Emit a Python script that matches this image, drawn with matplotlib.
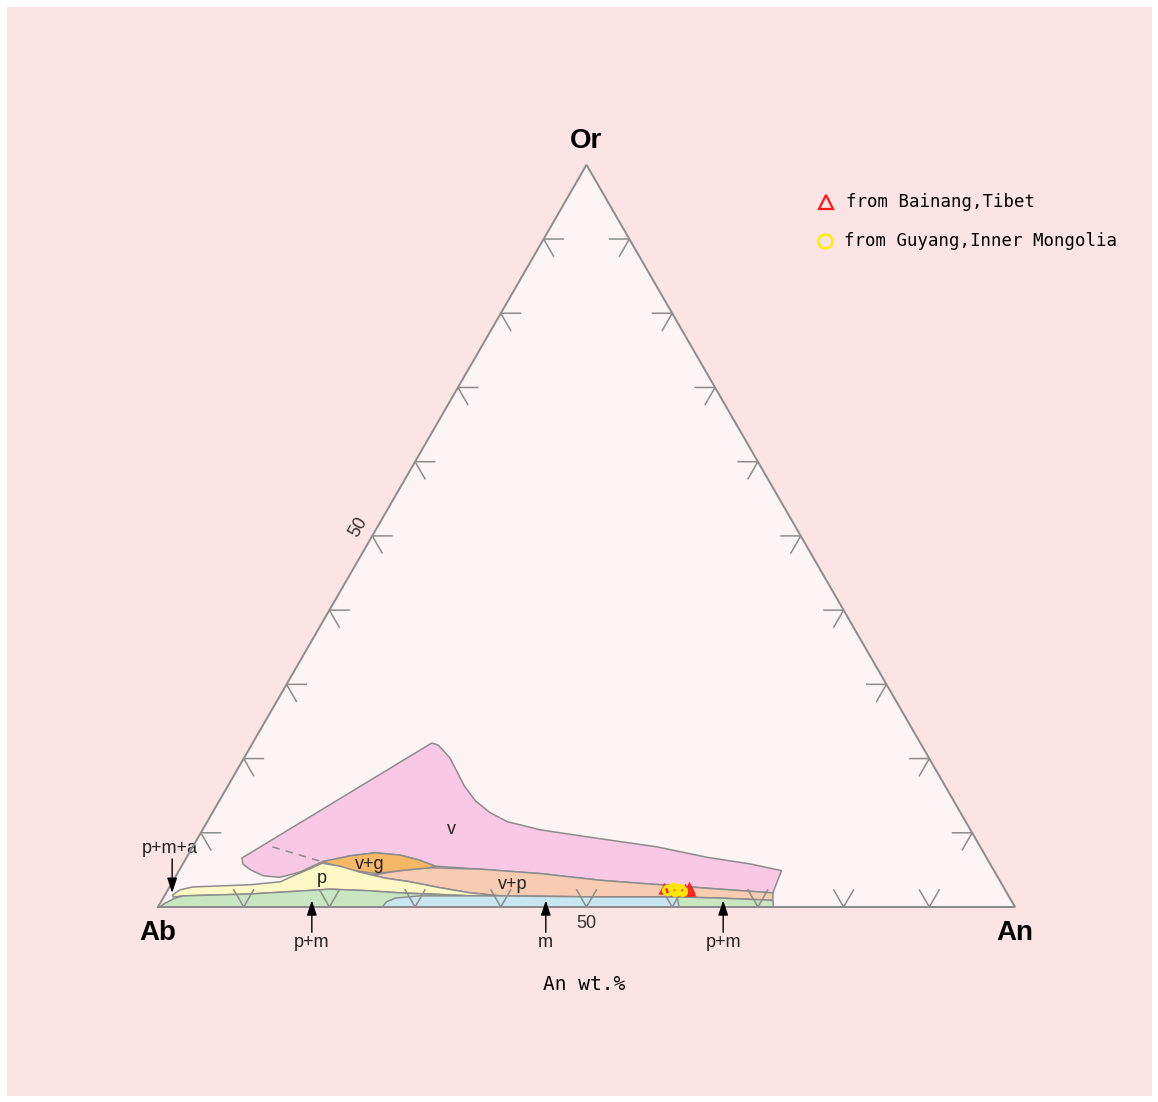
import numpy as np
import matplotlib.pyplot as plt
from matplotlib.patches import Polygon, Rectangle

# Ab-An-Or ternary diagram: stability fields of feldspar inclusions
# every field is a list of (An wt.%, Or wt.%) points, Ab = 100 - An - Or

v_field = [(6.5, 6.6), (20.9, 22.1), (21.8, 21.8), (22.6, 21.2), (24.0, 20.1),
           (25.8, 18.2), (27.6, 16.3), (29.9, 14.3), (32.4, 12.7), (35.0, 11.5),
           (39.4, 10.4), (45.7, 9.4), (54.2, 8.1), (60.7, 6.7), (66.2, 5.8),
           (70.3, 4.9), (70.8, 1.9), (64.4, 2.4), (59.5, 2.8), (54.6, 3.2),
           (49.8, 3.6), (42.4, 4.5), (35.0, 5.1), (29.6, 5.5), (27.4, 6.3),
           (24.7, 7.0), (21.7, 7.3), (19.0, 6.9), (16.1, 6.1), (14.2, 4.7),
           (12.2, 4.0), (10.2, 4.2), (8.3, 5.0), (7.0, 5.8)]

vg_field = [(16.1, 6.1), (19.0, 6.9), (21.7, 7.3), (24.7, 7.0), (27.4, 6.3),
            (29.6, 5.5), (29.1, 5.3), (25.8, 4.9), (23.1, 4.5), (19.9, 5.0)]

vp_field = [(22.9, 4.3), (25.8, 4.9), (29.1, 5.3), (35.0, 5.1), (42.4, 4.5),
            (49.8, 3.6), (54.6, 3.2), (59.5, 2.8), (64.4, 2.4), (70.8, 1.9),
            (71.3, 0.9), (65.0, 1.2), (60.2, 1.35), (50.9, 1.35), (39.2, 1.5),
            (35.5, 1.9), (31.6, 2.6), (27.7, 3.4), (24.5, 3.9)]

p_field = [(0.9, 1.6), (1.4, 2.3), (2.7, 2.7), (9.3, 3.0), (12.6, 3.4),
           (13.4, 4.0), (14.9, 5.0), (16.2, 5.9), (18.5, 5.5), (21.2, 4.7),
           (24.5, 3.9), (27.7, 3.4), (31.6, 2.6), (35.5, 1.9), (39.2, 1.5),
           (35.7, 1.5), (30.9, 1.75), (27.3, 1.9), (23.3, 2.2), (18.9, 2.4),
           (9.9, 1.75), (2.2, 1.5), (1.1, 1.35)]

pm_field = [(0.2, 0.0), (0.55, 0.5), (1.4, 1.2), (2.2, 1.5), (9.9, 1.75),
            (18.9, 2.4), (23.3, 2.2), (27.3, 1.9), (35.7, 1.5), (50.9, 1.35),
            (60.2, 1.35), (65.0, 1.2), (71.3, 0.9), (71.8, 0.0)]

m_field = [(26.2, 0.0), (26.3, 0.7), (27.1, 1.2), (29.8, 1.5), (39.2, 1.5),
           (50.9, 1.35), (59.9, 1.35), (60.8, 0.0)]

v_dash = [(9.3, 8.1), (16.1, 6.1)]

field_labels = ['v', 'v+g', 'p', 'v+p']
field_label_pos = [(29.0, 10.4), (21.9, 5.7), (17.2, 3.9), (39.9, 3.0)]

# arrows pointing at the narrow fields along the Ab-An join
arrow_labels = ['p+m', 'm', 'p+m']
arrow_an = [17.5, 44.8, 65.5]

# samples
bainang_an = [57.9, 59.3, 60.4, 60.7, 61.0]
bainang_or = [2.4, 2.2, 2.3, 2.5, 2.2]
guyang_an = [58.3, 58.8, 59.3, 59.7, 60.1]
guyang_or = [2.3, 2.5, 2.1, 2.4, 2.2]

S3 = np.sqrt(3) / 2


def tern(an, orr):
    an = np.asarray(an, dtype=float)
    orr = np.asarray(orr, dtype=float)
    return an / 100 + orr / 200, orr / 100 * S3


def tern_xy(points):
    a = np.array(points, dtype=float)
    x, y = tern(a[:, 0], a[:, 1])
    return np.column_stack([x, y])


# one unit of the triangle side = 857 px, Ab corner at pixel (158, 907)
W, H = 1158, 1102
SIDE, X0, Y0 = 857.0, 158.0, 907.0


def pix(px, py):
    return (px - X0) / SIDE, (Y0 - py) / SIDE


fig = plt.figure(figsize=(W / 100, H / 100), dpi=100, facecolor='white')
fig.patches.append(Rectangle((7 / W, 6 / H), 1145 / W, 1089 / H,
                             transform=fig.transFigure, facecolor='#fce4e4',
                             edgecolor='none', zorder=-5))
ax = fig.add_axes([0, 0, 1, 1])
ax.set_xlim(-X0 / SIDE, (W - X0) / SIDE)
ax.set_ylim((Y0 - H) / SIDE, Y0 / SIDE)
ax.axis('off')
ax.patch.set_visible(False)

edge = '#8c8c8c'
tri = [(0, 0), (100, 0), (0, 100)]
ax.add_patch(Polygon(tern_xy(tri), closed=True, facecolor='#fdf5f5',
                     edgecolor='none', zorder=1))

fields = [(v_field, '#f9c8e4'), (vp_field, '#f8cbb3'), (vg_field, '#f6b866'),
          (p_field, '#fdf8c6'), (pm_field, '#c9e6c2'), (m_field, '#c7e6f0')]
for pts, col in fields:
    ax.add_patch(Polygon(tern_xy(pts), closed=True, facecolor=col,
                         edgecolor=edge, linewidth=1.1, zorder=2,
                         joinstyle='round'))

dx, dy = tern(*zip(*v_dash))
ax.plot(dx, dy, color=edge, lw=1.1, ls=(0, (5, 4)), zorder=2.5)

# grid stubs every 10 %
L = 2.3
for k in range(10, 100, 10):
    segs = [
        [(k - L, L), (k, 0), (k, L)],
        [(L, k), (0, k), (L, k - L)],
        [(100 - k - L, k), (100 - k, k), (100 - k, k - L)],
    ]
    for s in segs:
        sx, sy = tern(*zip(*s))
        ax.plot(sx, sy, color=edge, lw=1.1, zorder=3)

tx, ty = tern_xy(tri + [tri[0]]).T
ax.plot(tx, ty, color=edge, lw=1.4, zorder=4, solid_joinstyle='miter')

sans = 'Liberation Sans'
mono = 'DejaVu Sans Mono'

for lab, (a, o) in zip(field_labels, field_label_pos):
    x, y = tern(a, o)
    ax.text(x, y, lab, ha='center', va='center', fontsize=13, family=sans,
            color='#222222', zorder=5)

arrow_kw = dict(arrowstyle='-|>,head_length=0.9,head_width=0.3', color='black',
                lw=1.0, shrinkA=0, shrinkB=0)
for lab, a in zip(arrow_labels, arrow_an):
    x, y = tern(a, 0.9)
    ax.annotate('', xy=(x, y), xytext=(x, y - 32 / SIDE),
                arrowprops=arrow_kw, zorder=6)
    ax.text(x, y - 34 / SIDE, lab, ha='center', va='top', fontsize=13,
            family=sans, color='#222222')

x, y = tern(0.7, 1.9)
ax.annotate('', xy=(x, y), xytext=(x, y + 34 / SIDE), arrowprops=arrow_kw,
            zorder=6)
ax.text(x - 2 / SIDE, y + 36 / SIDE, 'p+m+a', ha='center', va='bottom',
        fontsize=13, family=sans, color='#222222')

# tick values
x, y = tern(50, 0)
ax.text(x, y - 8 / SIDE, '50', ha='center', va='top', fontsize=13,
        family=sans, color='#333333')
x, y = tern(0, 50)
ax.text(x - 14 / SIDE, y + 9 / SIDE, '50', ha='center', va='center',
        rotation=60, fontsize=13, family=sans, color='#333333')

# corner labels
x, y = tern(0, 100)
ax.text(x, y + 24 / SIDE, 'Or', ha='center', va='center', fontsize=20,
        weight='bold', family=sans)
x, y = tern(0, 0)
ax.text(x, y - 26 / SIDE, 'Ab', ha='center', va='center', fontsize=20,
        weight='bold', family=sans)
x, y = tern(100, 0)
ax.text(x, y - 26 / SIDE, 'An', ha='center', va='center', fontsize=20,
        weight='bold', family=sans)

x, y = tern(50, 0)
ax.text(x - 2 / SIDE, y - 77 / SIDE, 'An wt.%', ha='center', va='center',
        fontsize=14, family=mono)

# samples
bx, by = tern(bainang_an, bainang_or)
ax.plot(bx, by, ls='none', marker='^', ms=6, mfc='none', mec='#ff2020',
        mew=1.8, zorder=7)
gx, gy = tern(guyang_an, guyang_or)
ax.plot(gx, gy, ls='none', marker='o', ms=6, mfc='none', mec='#ffe600',
        mew=2.2, zorder=7)

# legend
lx, ly = pix(826, 202)
ax.plot(lx, ly, marker='^', ms=10, mfc='none', mec='#ff1a1a', mew=1.6,
        clip_on=False)
ax.text(*pix(846, 202), 'from Bainang,Tibet', ha='left', va='center',
        fontsize=12.5, family=mono)
lx, ly = pix(825, 241)
ax.plot(lx, ly, marker='o', ms=10, mfc='none', mec='#ffee00', mew=1.8,
        clip_on=False)
ax.text(*pix(844, 241), 'from Guyang,Inner Mongolia', ha='left', va='center',
        fontsize=12.5, family=mono)

fig.savefig('out.png', dpi=100, facecolor=fig.get_facecolor())
